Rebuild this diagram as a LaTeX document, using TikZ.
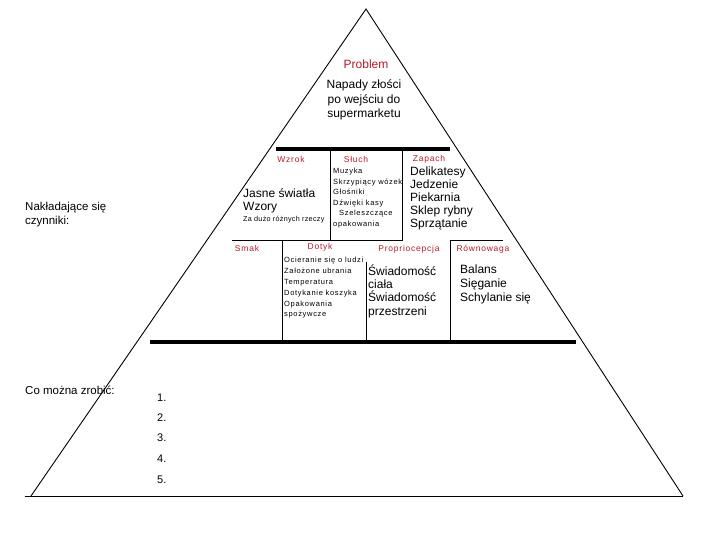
\documentclass[tikz,border=0pt]{standalone}
\usepackage{fontspec}
\setmainfont{Liberation Sans}
\newfontfamily\spacedfont[LetterSpace=9]{Liberation Sans}
\newfontfamily\tightfont[LetterSpace=4]{Liberation Sans}
\usetikzlibrary{arrows.meta}

\definecolor{labelred}{RGB}{185,25,40}

\tikzset{
  heading/.style={text=labelred, inner sep=0pt, font=\spacedfont\fontsize{8.5}{10}\selectfont},
  bigtext/.style={inner sep=0pt, align=left, font=\fontsize{12}{13.5}\selectfont},
  smalltext/.style={inner sep=0pt, align=left, font=\spacedfont\fontsize{7.5}{10.6}\selectfont},
  bar/.style={line width=4.5pt},
  thinline/.style={line width=0.9pt}
}

\begin{document}
\begin{tikzpicture}[x=1pt,y=-1pt]
        \useasboundingbox (0,0) rectangle (720,540);

            % pyramid
            \draw[thinline, line join=miter] (31,496) -- (366,9) -- (683,496);
            \draw[thinline] (25,496) -- (683,496);

            \draw[bar] (276,149) -- (450,149);
            \draw[bar] (150,342) -- (576,342);

            \draw[thinline] (330,149) -- (330,240);
            \draw[thinline] (402,149) -- (402,240);
            \draw[thinline] (232,240) -- (403,240);
            \draw[thinline] (450,240) -- (503,240);
            \draw[thinline] (282,240) -- (282,342);
            \draw[thinline] (366,262) -- (366,342);
            \draw[thinline] (450,240) -- (450,342);

            % top
            \node[text=labelred, inner sep=0pt, font=\fontsize{12}{14}\selectfont] (problem) at (366,64) {Problem};
            \node[inner sep=0pt, align=center, font=\fontsize{12}{14.5}\selectfont] (napady) at (364,100) {Napady złości\\po wejściu do\\supermarketu};

            % upper row
            \node[heading] (wzrok) at (291,159) {Wzrok};
            \node[heading] (sluch) at (356,159) {Słuch};
            \node[heading] (zapach) at (429,159) {Zapach};

            \node[bigtext, anchor=west] (wzrokbig) at (243,201) {Jasne światła\\Wzory};
            \node[smalltext, anchor=west, font=\tightfont\fontsize{7.2}{10}\selectfont] (wzroksmall) at (243,220) {Za dużo różnych rzeczy};
            \node[smalltext, anchor=west] (sluchlist) at (333,198) {Muzyka\\Skrzypiący wózek\\Głośniki\\Dźwięki kasy\\\hspace{6pt}Szeleszczące\\opakowania};
            \node[bigtext, anchor=west, font=\fontsize{12}{13}\selectfont] (zapachlist) at (410,198) {Delikatesy\\Jedzenie\\Piekarnia\\Sklep rybny\\Sprzątanie};

            \node[bigtext, anchor=west, font=\fontsize{11.5}{14}\selectfont] (czynniki) at (25,215) {Nakładające się\\czynniki:};

            % lower row
            \node[heading] (smak) at (247,248) {Smak};
            \node[heading] (dotyk) at (320,247) {Dotyk};
            \node[heading] (proprio) at (409,249) {Propriocepcja};
            \node[heading] (rownowaga) at (483,249) {Równowaga};

            \node[smalltext, anchor=west, font=\spacedfont\fontsize{7.5}{10.8}\selectfont] (dotyklist) at (284,288) {Ocieranie się o ludzi\\Założone ubrania\\Temperatura\\Dotykanie koszyka\\Opakowania\\spożywcze};
            \node[bigtext, anchor=west, font=\fontsize{12}{13.3}\selectfont] (propriolist) at (368,291) {Świadomość\\ciała\\Świadomość\\przestrzeni};
            \node[bigtext, anchor=west, font=\fontsize{12}{14}\selectfont] (rownowagalist) at (460,284) {Balans\\Sięganie\\Schylanie się};

            % bottom
            \node[bigtext, anchor=west, font=\fontsize{11.5}{14}\selectfont] (zrobic) at (25,390) {Co można zrobić:};
            \foreach \n/\y in {1/398,2/418,3/438,4/459,5/480}
              \node[inner sep=0pt, anchor=west, font=\fontsize{11}{13}\selectfont] (krok\n) at (157,\y) {\n.};

          \end{tikzpicture}
\end{document}
